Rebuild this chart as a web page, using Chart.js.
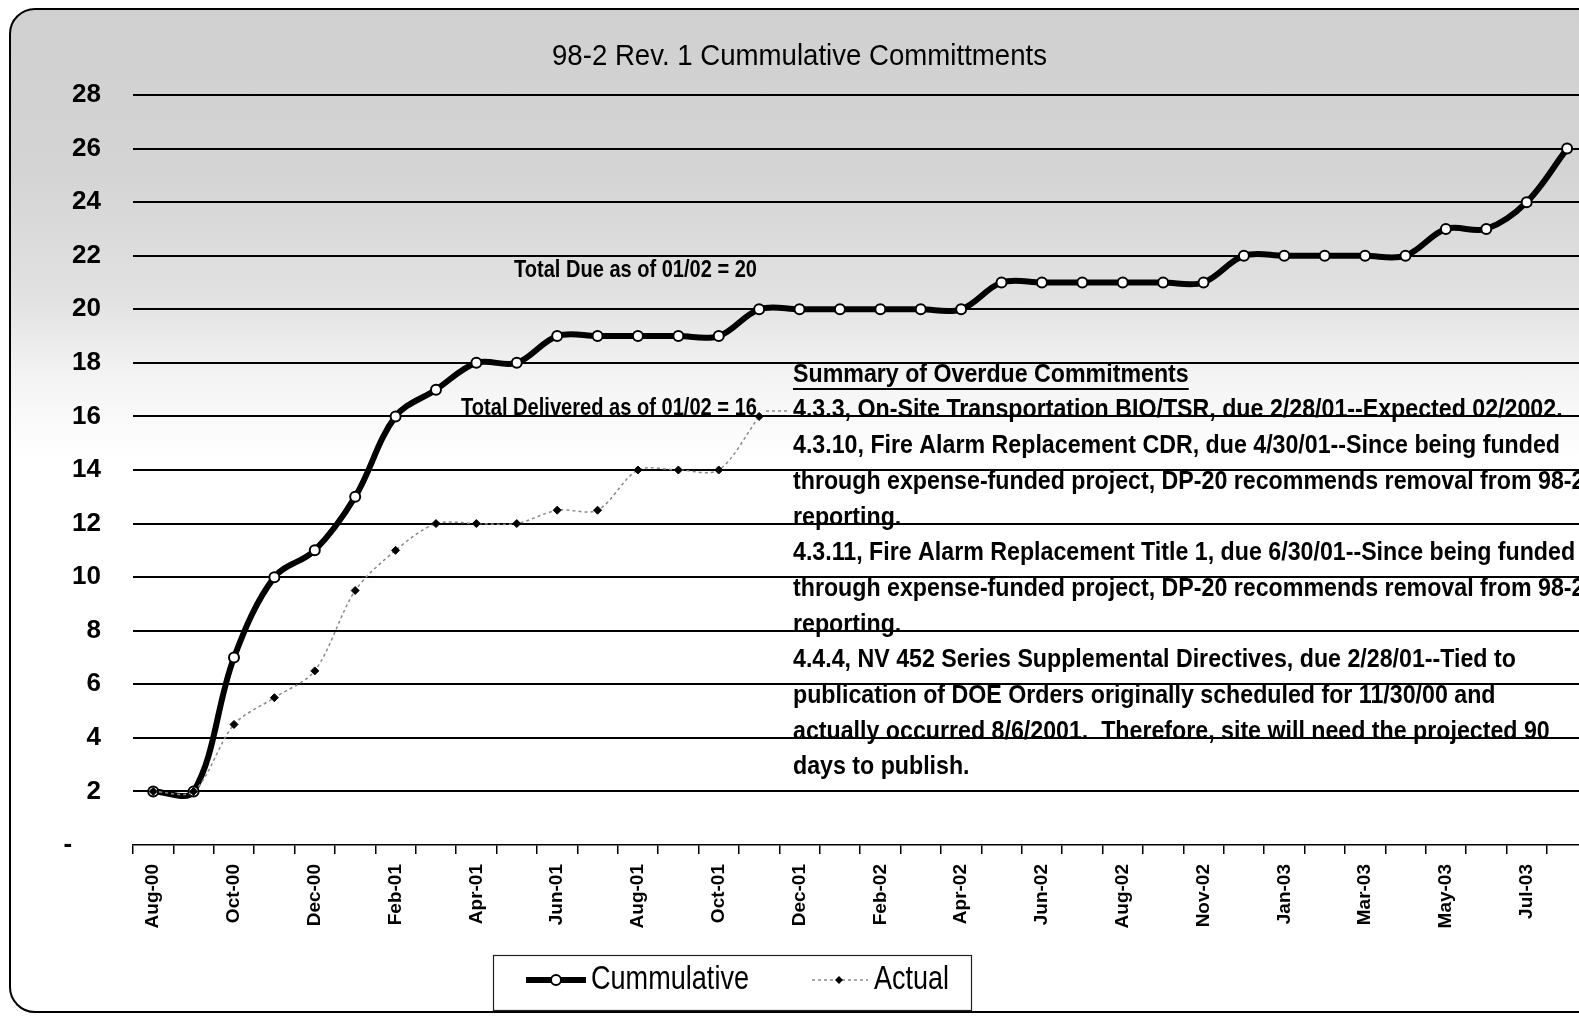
<!DOCTYPE html>
<html>
<head>
<meta charset="utf-8">
<title>98-2 Rev. 1 Cummulative Committments</title>
<script src="https://cdn.jsdelivr.net/npm/chart.js@4.4.0/dist/chart.umd.min.js"></script>
<style>
  html, body { margin: 0; padding: 0; background: #fff; overflow: hidden; }
  #frame {
    position: absolute; left: 9px; top: 8px; width: 1640px; height: 1001px;
    border: 2px solid #000; border-radius: 26px;
    background: linear-gradient(to bottom, #d0d0d0 0px, #d4d4d4 160px, #e2e2e2 290px, #f4f4f4 370px, #ffffff 450px);
  }
  #wrap { position: absolute; left: 0; top: 0; width: 1600px; height: 1016px; }
</style>
</head>
<body>
<div id="frame"></div>
<div id="wrap"><canvas id="chart" width="1600" height="1016"></canvas></div>
<script>
// month categories (Oct-02 is missing in the source sheet)
const months = [
  "Aug-00", "Sep-00", "Oct-00", "Nov-00", "Dec-00", "Jan-01", "Feb-01", "Mar-01",
  "Apr-01", "May-01", "Jun-01", "Jul-01", "Aug-01", "Sep-01", "Oct-01", "Nov-01",
  "Dec-01", "Jan-02", "Feb-02", "Mar-02", "Apr-02", "May-02", "Jun-02", "Jul-02",
  "Aug-02", "Sep-02", "Nov-02", "Dec-02", "Jan-03", "Feb-03", "Mar-03", "Apr-03",
  "May-03", "Jun-03", "Jul-03", "Aug-03",
];

const cumulative = [
  2, 2, 7, 10, 11, 13, 16, 17, 18, 18, 19, 19, 19, 19, 19, 20,
  20, 20, 20, 20, 20, 21, 21, 21, 21, 21, 21, 22, 22, 22, 22, 22,
  23, 23, 24, 26,
];

const actual = [
  2, 2, 4.5, 5.5, 6.5, 9.5, 11, 12, 12, 12, 12.5, 12.5, 14, 14, 14, 16,
  null, null, null, null, null, null, null, null, null, null, null, null,
  null, null, null, null, null, null, null, null,
];

const yMin = 0;
const yMax = 28;
const yStep = 2;

const titleText = "98-2 Rev. 1 Cummulative Committments";
const dueNote = "Total Due as of 01/02 = 20";
const deliveredNote = "Total Delivered as of 01/02 = 16";
const summaryHeading = "Summary of Overdue Commitments";
const summaryLines = [
  "4.3.3, On-Site Transportation BIO/TSR, due 2/28/01--Expected 02/2002.",
  "4.3.10, Fire Alarm Replacement CDR, due 4/30/01--Since being funded",
  "through expense-funded project, DP-20 recommends removal from 98-2",
  "reporting.",
  "4.3.11, Fire Alarm Replacement Title 1, due 6/30/01--Since being funded",
  "through expense-funded project, DP-20 recommends removal from 98-2",
  "reporting.",
  "4.4.4, NV 452 Series Supplemental Directives, due 2/28/01--Tied to",
  "publication of DOE Orders originally scheduled for 11/30/00 and",
  "actually occurred 8/6/2001.  Therefore, site will need the projected 90",
  "days to publish.",
];
const legendLabels = ["Cummulative", "Actual"];

const NARROW = "'Liberation Sans Narrow', 'Arial Narrow', 'Liberation Sans', Arial, sans-serif";
const WIDE = "'Liberation Sans', Arial, sans-serif";

// draws text squeezed/stretched horizontally to a target width
function fitText(ctx, text, x, y, font, width, align) {
  ctx.font = font;
  const w = ctx.measureText(text).width;
  const sx = width ? width / w : 1;
  ctx.save();
  ctx.translate(x, y);
  ctx.scale(sx, 1);
  ctx.textAlign = align || "left";
  ctx.fillText(text, 0, 0);
  ctx.restore();
  return sx;
}

function scaledText(ctx, text, x, y, font, sx) {
  ctx.font = font;
  ctx.save();
  ctx.translate(x, y);
  ctx.scale(sx, 1);
  ctx.textAlign = "left";
  ctx.fillText(text, 0, 0);
  const w = ctx.measureText(text).width * sx;
  ctx.restore();
  return w;
}

const notesPlugin = {
  id: "notes",
  afterDraw(chart) {
    const ctx = chart.ctx;
    ctx.save();
    ctx.fillStyle = "#000";
    ctx.textBaseline = "middle";

    // title
    fitText(ctx, titleText, 552, 57, `30px ${NARROW}`, 495);

    // notes on the left
    const noteFont = `bold 24px ${NARROW}`;
    fitText(ctx, dueNote, 757, 270, noteFont, 243, "right");
    fitText(ctx, deliveredNote, 757, 408, noteFont, 296, "right");

    // leader to the summary
    ctx.strokeStyle = "#555";
    ctx.lineWidth = 1.2;
    ctx.setLineDash([3, 3]);
    ctx.beginPath();
    ctx.moveTo(766, 411);
    ctx.lineTo(790, 411);
    ctx.stroke();
    ctx.setLineDash([]);

    // summary block
    const sumFont = `bold 26px ${NARROW}`;
    ctx.font = sumFont;
    const sx = 767 / ctx.measureText(summaryLines[1]).width;
    const left = 793;
    const headW = scaledText(ctx, summaryHeading, left, 374.6, sumFont, sx);
    ctx.strokeStyle = "#000";
    ctx.lineWidth = 2;
    ctx.beginPath();
    ctx.moveTo(left, 389);
    ctx.lineTo(left + headW, 389);
    ctx.stroke();
    summaryLines.forEach((line, i) => {
      scaledText(ctx, line, left, 410.3 + i * 35.7, sumFont, sx);
    });

    // legend box
    ctx.lineWidth = 1.2;
    ctx.strokeStyle = "#222";
    ctx.strokeRect(493.5, 955.5, 478, 55);

    const ly = 980;
    // cumulative sample
    ctx.strokeStyle = "#000";
    ctx.lineWidth = 6;
    ctx.beginPath();
    ctx.moveTo(526, ly);
    ctx.lineTo(586, ly);
    ctx.stroke();
    ctx.fillStyle = "#fff";
    ctx.lineWidth = 2;
    ctx.beginPath();
    ctx.arc(556, ly, 5, 0, Math.PI * 2);
    ctx.fill();
    ctx.stroke();

    // actual sample
    ctx.strokeStyle = "#8a8a8a";
    ctx.lineWidth = 1.5;
    ctx.setLineDash([3, 3]);
    ctx.beginPath();
    ctx.moveTo(812, ly);
    ctx.lineTo(868, ly);
    ctx.stroke();
    ctx.setLineDash([]);
    ctx.fillStyle = "#000";
    ctx.beginPath();
    ctx.moveTo(839, ly - 4);
    ctx.lineTo(843, ly);
    ctx.lineTo(839, ly + 4);
    ctx.lineTo(835, ly);
    ctx.closePath();
    ctx.fill();

    const legFont = `33px ${NARROW}`;
    fitText(ctx, legendLabels[0], 591, ly, legFont, 158);
    fitText(ctx, legendLabels[1], 874, ly, legFont, 75);

    ctx.restore();
  },
};

new Chart(document.getElementById("chart"), {
  type: "line",
  data: {
    labels: months,
    datasets: [
      {
        label: legendLabels[1],
        data: actual,
        borderColor: "#8a8a8a",
        borderWidth: 1.5,
        borderDash: [3, 3],
        pointStyle: "rectRot",
        pointRadius: 4,
        pointBackgroundColor: "#000",
        pointBorderColor: "#000",
        pointBorderWidth: 1,
        tension: 0.3,
        order: 0,
      },
      {
        label: legendLabels[0],
        data: cumulative,
        borderColor: "#000",
        borderWidth: 6,
        pointStyle: "circle",
        pointRadius: 5,
        pointBackgroundColor: "#fff",
        pointBorderColor: "#000",
        pointBorderWidth: 2,
        tension: 0.35,
        order: 1,
      },
    ],
  },
  options: {
    responsive: false,
    animation: false,
    devicePixelRatio: 1,
    layout: { padding: { top: 95, right: 9, bottom: 71, left: 0 } },
    plugins: {
      legend: { display: false },
      title: { display: false },
      tooltip: { enabled: false },
    },
    scales: {
      x: {
        offset: true,
        grid: { offset: true, drawOnChartArea: false, color: "#000", lineWidth: 1.5, tickLength: 9 },
        border: { color: "#000", width: 1.5 },
        ticks: {
          autoSkip: false,
          minRotation: 90,
          maxRotation: 90,
          padding: 10,
          color: "#000",
          font: { family: WIDE, weight: "bold", size: 19 },
          callback: (v, i) => (i % 2 === 0 ? months[i] : ""),
        },
        afterFit: (s) => { s.height = 100; },
      },
      y: {
        min: yMin,
        max: yMax,
        ticks: {
          stepSize: yStep,
          padding: 32,
          color: "#000",
          font: { family: WIDE, weight: "bold", size: 26 },
          callback: (v) => (v === 0 ? "-\u2007\u2007" : v),
        },
        grid: {
          color: (c) => (c.tick && c.tick.value === 0 ? "rgba(0,0,0,0)" : "#000"),
          lineWidth: 2,
          drawTicks: false,
        },
        border: { display: false },
        afterFit: (s) => { s.width = 133; },
      },
    },
  },
  plugins: [notesPlugin],
});
</script>
</body>
</html>
